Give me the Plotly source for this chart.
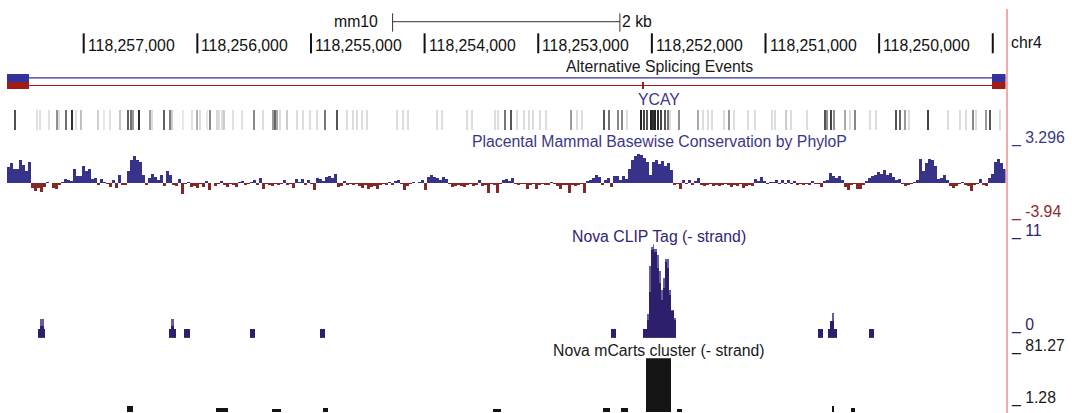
import plotly.graph_objects as go

W, H = 1072, 413

# ---------------- data ----------------
chrom = "chr4"
view_start = 118248888          # right edge of the window (genome coords)
view_end = 118257675            # left edge (minus-strand view, coordinates decrease to the right)
ruler_ticks = [118257000, 118256000, 118255000, 118254000, 118253000,
               118252000, 118251000, 118250000, 118249000]
ruler_labelled = 8              # last tick has no label
scale_bp = 2000

# Alternative splicing events: (start, end) exon blocks
alt_blue_exons = [(118257481, 118257800), (118248800, 118249007)]
alt_red_exons = [(118257481, 118257800), (118252065, 118252087), (118248800, 118249007)]

# YCAY motif hits (position, score 0-1000)
ycay_pos = [118257605, 118257411, 118257385, 118257305, 118257235, 118257217, 118257156, 118257103,
            118257068, 118257024, 118256874, 118256821, 118256769, 118256681, 118256610, 118256584,
            118256566, 118256513, 118256417, 118256399, 118256293, 118256241, 118256223, 118256126,
            118256047, 118256003, 118255977, 118255915, 118255889, 118255827, 118255809, 118255783,
            118255765, 118255686, 118255607, 118255501, 118255422, 118255334, 118255317, 118255299,
            118255273, 118255211, 118255123, 118255070, 118255009, 118254947, 118254877, 118254771,
            118254683, 118254630, 118254595, 118254551, 118254507, 118254243, 118254190, 118254146,
            118253891, 118253847, 118253627, 118253583, 118253381, 118253354, 118253293, 118253240,
            118253187, 118253125, 118253081, 118253046, 118252985, 118252932, 118252712, 118252659,
            118252615, 118252421, 118252377, 118252298, 118252263, 118252219, 118252096, 118252069,
            118252043, 118252008, 118251990, 118251973, 118251946, 118251920, 118251885, 118251858,
            118251841, 118251761, 118251594, 118251550, 118251506, 118251471, 118251365, 118251321,
            118251277, 118251154, 118251093, 118250943, 118250917, 118250820, 118250776, 118250635,
            118250477, 118250459, 118250424, 118250397, 118250301, 118250257, 118250213, 118250081,
            118250028, 118249852, 118249817, 118249773, 118249737, 118249570, 118249394, 118249289,
            118249236, 118249174, 118249148, 118249060, 118249025, 118248937]
ycay_score = [775, 55, 55, 55, 455, 70, 615, 935,
              55, 215, 135, 15, 55, 175, 695, 615,
              405, 935, 375, 70, 695, 535, 155, 15,
              55, 295, 70, 15, 485, 95, 70, 70,
              155, 55, 55, 485, 70, 410, 665, 325,
              70, 155, 70, 70, 70, 70, 580, 750,
              70, 70, 70, 70, 70, 70, 70, 70,
              70, 70, 70, 70, 70, 70, 580, 750,
              70, 70, 70, 70, 70, 70, 410, 70,
              70, 750, 615, 495, 495, 70, 1000, 835,
              750, 1000, 920, 1000, 920, 835, 750, 580,
              70, 455, 325, 70, 70, 70, 70, 410,
              70, 70, 70, 70, 70, 155, 70, 70,
              750, 455, 835, 455, 325, 70, 495, 70,
              70, 750, 665, 410, 70, 835, 70, 70,
              70, 495, 70, 410, 750, 70]

# PhyloP basewise conservation, binned (first bin starts at the left edge)
phylop_first = 118257675
phylop_bin = 26.4
phylop_vals = [
    1.8, 2.2, 1.5, 1.6, 2.6, 2.0, 1.3, 2.3, -0.6, -1.0,
    -0.6, -1.1, -0.5, 0.1, -0.1, -0.6, -0.7, -0.3, 0.1, 0.4,
    0.3, 0.2, 1.5, 0.7, 0.8, 1.9, 1.3, 1.5, 0.4, 0.5,
    -0.3, 0.4, 0.1, -0.2, -0.5, 0.3, -0.6, 0.9, -0.3, -0.3,
    1.3, 2.6, 3.07, 2.6, 2.3, 0.9, -0.3, 0.5, 1.0, 0.6,
    0.3, 0.9, -0.4, 1.3, 0.9, -0.3, -0.4, 0.4, -1.3, -0.2,
    0.1, -0.5, -0.4, -0.6, -0.2, -0.5, 0.2, -0.85, -0.1, -0.4,
    -0.2, 0.2, -0.3, -0.5, -0.2, -0.3, -0.5, 0.1, 0.2, -0.3,
    -0.2, 0.1, 0.3, -0.3, 0.5, -0.8, -0.2, -0.3, -0.4, -0.2,
    -0.3, -0.2, 0.3, -0.3, -0.2, -0.6, 0.4, 0.1, 0.4, -0.3,
    0.3, -0.2, -0.9, 0.5, 0.4, 0.2, 0.6, 0.7, 0.5, 1.0,
    -0.5, -0.4, 0.2, -0.3, -0.2, -0.3, -0.2, -0.4, -0.6, -0.3,
    -0.8, -0.5, -0.4, -0.8, -0.3, -0.2, -0.3, 0.1, -0.3, 0.2,
    0.3, -0.2, -0.9, -0.4, -0.2, 0.1, -0.1, 0.1, 0.3, -0.9,
    0.6, 0.9, 0.6, 0.5, 0.3, 0.6, 0.4, -0.2, -0.5, -0.4,
    -0.3, -0.4, -0.5, -0.3, -0.2, -0.4, -0.3, 0.3, -0.4, -0.3,
    -1.2, -0.2, -0.3, -1.2, -0.2, 0.3, 0.4, 0.2, 0.5, -0.2,
    -0.3, -0.2, -0.2, -0.8, -0.3, -0.2, -0.8, -0.3, -0.2, -0.3,
    -0.3, 0.1, -0.2, -0.4, -0.8, -0.3, -0.3, -1.2, -0.3, -0.4,
    -0.3, -0.2, -1.2, 0.2, 0.3, 0.5, 0.9, 0.6, -0.3, 0.3,
    0.5, -0.5, 0.8, 0.7, 0.3, 0.8, 0.4, 1.6, 2.6, 3.0,
    3.29, 3.2, 2.8, 2.3, 0.9, 2.3, 2.6, 2.1, 2.5, 1.9,
    2.2, 1.4, -0.3, -0.2, -0.7, 0.3, -0.2, 0.3, -0.3, 0.2,
    0.5, -0.3, -0.4, -0.3, -0.2, -0.4, -0.3, -0.4, -0.3, -0.2,
    -0.3, -0.5, -0.3, -0.4, -0.2, -0.6, -0.4, -0.3, -0.4, 0.4,
    0.2, 0.6, 0.2, -0.2, 0.1, 0.1, 0.3, -0.2, 0.3, -0.2,
    0.3, -0.2, 0.2, -0.3, -0.2, -0.3, -0.2, -0.3, 0.2, -0.2,
    -0.2, -0.5, 0.2, 0.3, 1.1, 0.7, 0.5, 0.8, 0.3, -0.5,
    -0.9, -0.3, -0.2, -0.7, -0.7, -0.3, 0.2, 0.5, 0.8, 0.9,
    1.2, 1.0, 1.4, 0.9, 1.1, 0.6, 0.3, 0.4, -0.2, -0.4,
    -0.3, -0.2, 0.1, 0.3, 2.7, 1.3, 2.2, 2.7, 2.6, 1.9,
    0.4, 0.5, 0.9, 0.3, -0.4, -0.6, -0.4, -0.2, 0.1, -0.3,
    -0.4, -1.0, -0.3, -0.2, 0.35, -0.3, -0.4, 0.5, 1.0, 2.4, 2.7, 2.2, 1.6]
phylop_max, phylop_min = 3.296, -3.94

# Nova CLIP tags (- strand): segment high/low coordinate, mean and max tag count
clip_hi = [118257402, 118257385, 118257349, 118256249, 118256232, 118256205, 118256117, 118255537,
           118254921, 118252364, 118252081, 118252040, 118252023, 118252010, 118251993, 118251981,
           118251958, 118251940, 118251922, 118251900, 118251882, 118251864, 118251847, 118251829,
           118251805, 118250538, 118250450, 118250433, 118250411, 118250397, 118250089]
clip_lo = [118257385, 118257349, 118257341, 118256232, 118256205, 118256188, 118256065, 118255493,
           118254877, 118252320, 118252040, 118252023, 118252010, 118251993, 118251981, 118251958,
           118251940, 118251922, 118251900, 118251882, 118251864, 118251847, 118251829, 118251805,
           118251788, 118250494, 118250433, 118250411, 118250397, 118250371, 118250045]
clip_mean = [1, 1.4, 1, 1, 1.4, 1, 1, 1, 1, 1, 1, 2.1, 5.4, 10.3, 10.5, 10.1,
             8.2, 6.4, 4.4, 5.8, 8.9, 8.2, 5.0, 3.1, 2.1, 1, 1, 2, 2, 1, 1]
clip_max = [1, 2.2, 1, 1, 2.2, 1, 1, 1, 1, 1, 1, 2.8, 8.5, 10.7, 11, 10.4,
            9.7, 7.8, 5.6, 7.0, 9.3, 9.3, 5.6, 3.3, 2.3, 1, 1, 2, 2.9, 1, 1]
clip_range = (0, 11)

# Nova mCarts clusters (- strand)
mcarts_hi = [118256619, 118255836, 118255343, 118254894, 118253398, 118252430,
             118252272, 118252052, 118251779, 118250415, 118250248]
mcarts_lo = [118256566, 118255730, 118255264, 118254850, 118253328, 118252369,
             118252210, 118251832, 118251735, 118250393, 118250213]
mcarts_val = [8.9, 5.8, 4.3, 5.8, 4.3, 5.8, 5.8, 81.27, 4.3, 8.9, 5.8]
mcarts_top, mcarts_label_low = 81.27, 1.28

# ---------------- styling helpers ----------------
FONT = "Liberation Sans, Arial, Helvetica, sans-serif"
FS = 15.8
BLUE_T = "#3b3787"
CLIP_T = "#2e2670"
RED_T = "#8b2d2d"
PHY_POS = "#38338a"
PHY_NEG = "#832826"
CLIP_DARK = "#2e1f6c"
CLIP_LIGHT = "#5f5fa2"
ALT_BLUE = "#35329a"
ALT_RED = "#a01c14"


def py(p):
    return 1 - p / H


def px(p):
    return p / W


fig = go.Figure()

# Alternative splicing events (rows: 1 blue, 0 red)
for row, exons, col in [(1, alt_blue_exons, ALT_BLUE), (0, alt_red_exons, ALT_RED)]:
    lo = min(s for s, e in exons)
    hi = max(e for s, e in exons)
    fig.add_trace(go.Scatter(x=[lo, hi], y=[row, row], mode="lines",
                             line=dict(color=col, width=1.2), xaxis="x", yaxis="y",
                             hoverinfo="skip"))
    fig.add_trace(go.Bar(orientation="h", y=[row] * len(exons),
                         x=[e - s for s, e in exons], base=[s for s, e in exons],
                         width=1.0, marker=dict(color=col, line=dict(width=0)),
                         xaxis="x", yaxis="y", hoverinfo="skip"))

# YCAY
ycay_cols = []
for s in ycay_score:
    g = int(round(235 - s * 0.2))
    ycay_cols.append(f"rgb({g},{g},{g})")
fig.add_trace(go.Bar(x=ycay_pos, y=[1] * len(ycay_pos), base=0, width=10,
                     marker=dict(color=ycay_cols, line=dict(width=0)),
                     xaxis="x", yaxis="y2", hoverinfo="skip"))

# PhyloP
phy_x = [phylop_first - (i + 0.5) * phylop_bin for i in range(len(phylop_vals))]
phy_c = [PHY_POS if v >= 0 else PHY_NEG for v in phylop_vals]
fig.add_trace(go.Bar(x=phy_x, y=phylop_vals, width=phylop_bin,
                     marker=dict(color=phy_c, line=dict(width=0)),
                     xaxis="x", yaxis="y3", hoverinfo="skip"))

# CLIP
clip_x = [(a + b) / 2 for a, b in zip(clip_hi, clip_lo)]
clip_w = [a - b for a, b in zip(clip_hi, clip_lo)]
fig.add_trace(go.Bar(x=clip_x, y=clip_max, width=clip_w,
                     marker=dict(color=CLIP_LIGHT, line=dict(width=0)),
                     xaxis="x", yaxis="y4", hoverinfo="skip"))
fig.add_trace(go.Bar(x=clip_x, y=clip_mean, width=clip_w,
                     marker=dict(color=CLIP_DARK, line=dict(width=0)),
                     xaxis="x", yaxis="y4", hoverinfo="skip"))

# mCarts
mc_x = [(a + b) / 2 for a, b in zip(mcarts_hi, mcarts_lo)]
mc_w = [a - b for a, b in zip(mcarts_hi, mcarts_lo)]
fig.add_trace(go.Bar(x=mc_x, y=mcarts_val, width=mc_w,
                     marker=dict(color="#141414", line=dict(width=0)),
                     xaxis="x", yaxis="y5", hoverinfo="skip"))

# ---------------- layout ----------------
def ydom(top_px, bot_px):
    return [max(0, py(bot_px)), min(1, py(top_px))]


# mCarts axis: top value at 358.3px, label value 1.28 at 411px
mc_top_px, mc_low_px = 358.3, 411.0
mc_per_px = (mcarts_top - mcarts_label_low) / (mc_low_px - mc_top_px)
mc_bottom_val = mcarts_label_low - (H - mc_low_px) * mc_per_px

hidden = dict(visible=False, fixedrange=True)
fig.update_layout(
    width=W, height=H, margin=dict(l=0, r=0, t=0, b=0),
    paper_bgcolor="white", plot_bgcolor="rgba(0,0,0,0)",
    showlegend=False, barmode="overlay", bargap=0,
    xaxis=dict(domain=[px(7), px(1005.5)], range=[view_end, view_start], **hidden),
    yaxis=dict(domain=ydom(74.1, 89.3), range=[-0.5, 1.5], anchor="x", **hidden),
    yaxis2=dict(domain=ydom(110, 130), range=[0, 1], anchor="x", **hidden),
    yaxis3=dict(domain=ydom(153.8, 216.8), range=[phylop_min, phylop_max], anchor="x", **hidden),
    yaxis4=dict(domain=ydom(244.3, 337.7), range=list(clip_range), anchor="x", **hidden),
    yaxis5=dict(domain=[0, py(mc_top_px)], range=[mc_bottom_val, mcarts_top], anchor="x", **hidden),
)

shapes = []
annots = []


def text(x, y, s, color="#111111", xanchor="center", xref="paper", xshift=0, size=FS):
    annots.append(dict(x=x, y=y, xref=xref, yref="paper", text=s, showarrow=False,
                       xanchor=xanchor, yanchor="middle", xshift=xshift,
                       font=dict(family=FONT, size=size, color=color)))


# ruler
for i, t in enumerate(ruler_ticks):
    shapes.append(dict(type="line", xref="x", yref="paper", x0=t, x1=t,
                       y0=py(53.3), y1=py(33.3), line=dict(color="#111111", width=2)))
    if i < ruler_labelled:
        text(t, py(45), f"{t:,}", xanchor="left", xref="x", xshift=2)

# scale bar, centered in window
center = (view_start + view_end) / 2
sb_left, sb_right = center + scale_bp / 2, center - scale_bp / 2
shapes.append(dict(type="line", xref="x", yref="paper", x0=sb_left, x1=sb_right,
                   y0=py(21.7), y1=py(21.7), line=dict(color="#333333", width=1)))
for xb in (sb_left, sb_right):
    shapes.append(dict(type="line", xref="x", yref="paper", x0=xb, x1=xb,
                       y0=py(31.7), y1=py(13.3), line=dict(color="#333333", width=1)))
text(sb_left, py(21.5), "mm10", xanchor="right", xref="x", xshift=-13)
text(sb_right, py(21.5), f"{scale_bp // 1000} kb", xanchor="left", xref="x", xshift=0)

# pink guide line
shapes.append(dict(type="line", xref="paper", yref="paper", x0=px(1007), x1=px(1007),
                   y0=py(9), y1=0, line=dict(color="#f6a9ab", width=2)))

# chromosome label and track titles
text(px(1009), py(43), chrom, xanchor="left")
cx = px(659)
text(cx, py(66), "Alternative Splicing Events", color="#1a1a1a")
text(cx, py(100), "YCAY", color=BLUE_T)
text(cx, py(141.7), "Placental Mammal Basewise Conservation by PhyloP", color=BLUE_T)
text(cx, py(236.7), "Nova CLIP Tag (- strand)", color=CLIP_T)
text(cx, py(350), "Nova mCarts cluster (- strand)", color="#1a1a1a")

# right-hand value labels
rx = px(1009)
text(rx, py(137.7), f"_ {phylop_max}", color=BLUE_T, xanchor="left")
text(rx, py(212), f"_ {phylop_min}", color=RED_T, xanchor="left")
text(rx, py(230.7), f"_ {clip_range[1]}", color=CLIP_T, xanchor="left")
text(rx, py(325), f"_ {clip_range[0]}", color=CLIP_T, xanchor="left")
text(rx, py(346), f"_ {mcarts_top}", color="#1a1a1a", xanchor="left")
text(rx, py(398.3), f"_ {mcarts_label_low}", color="#1a1a1a", xanchor="left")

fig.update_layout(shapes=shapes, annotations=annots)
fig.write_html("out.html", config={"displayModeBar": False, "staticPlot": True},
               post_script="document.body.style.margin='0';document.body.style.padding='0';")
